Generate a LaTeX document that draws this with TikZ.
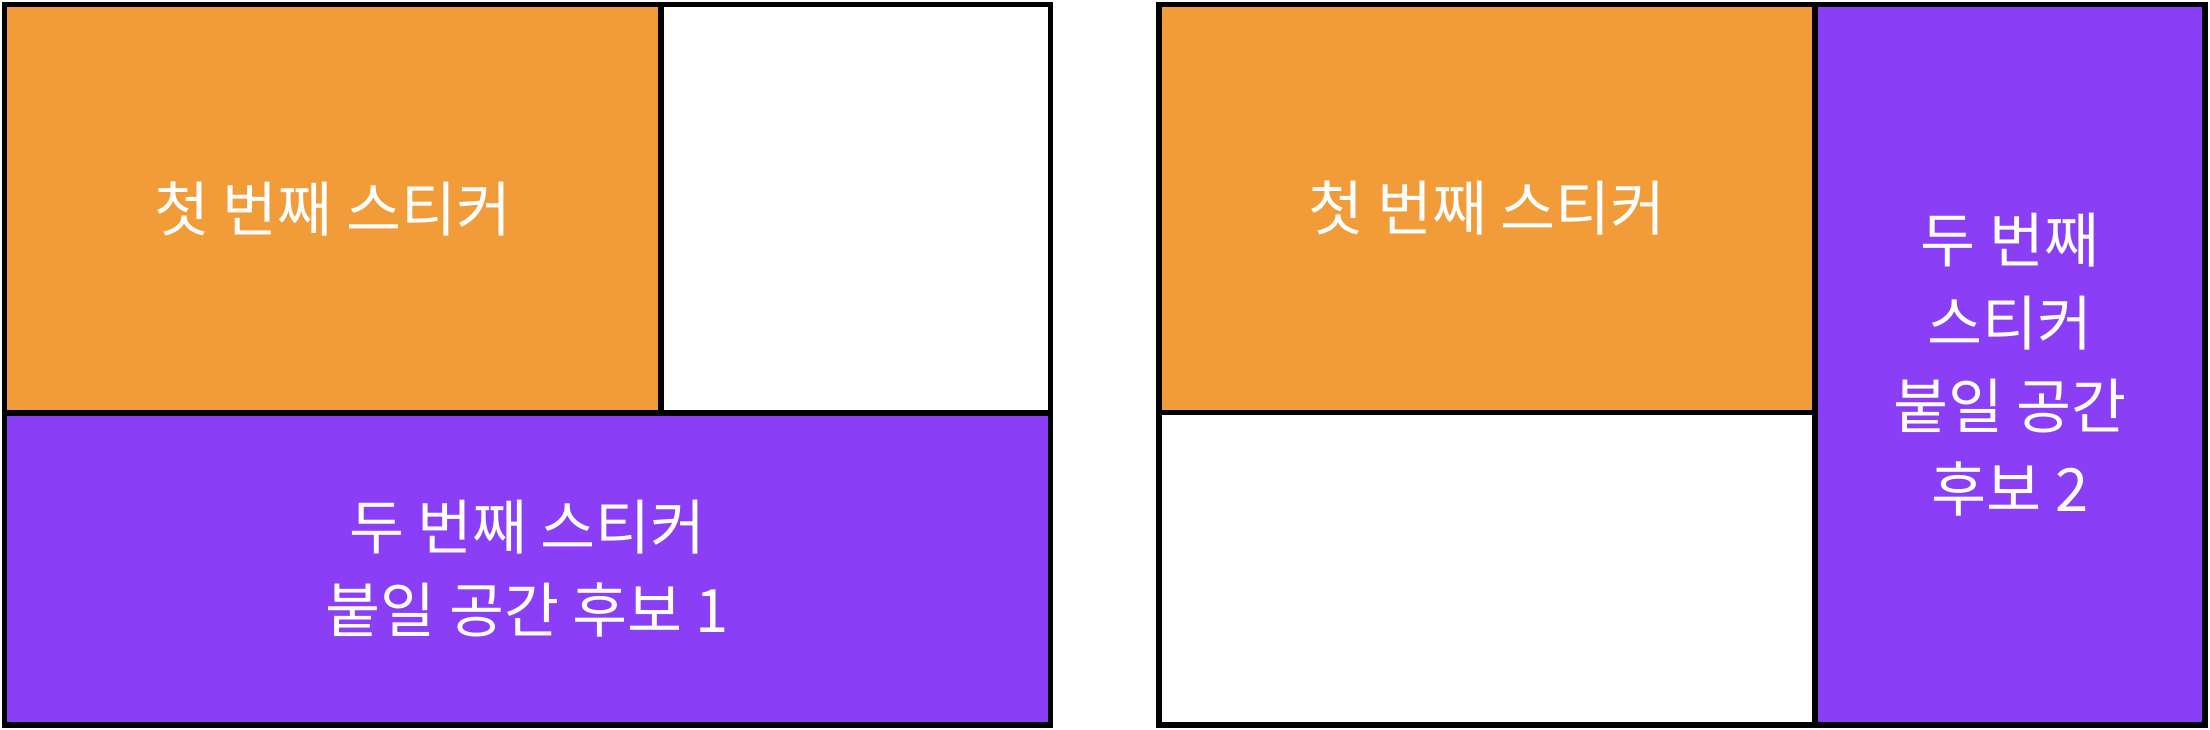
\documentclass[tikz,border=0pt]{standalone}
\usepackage{fontspec}
\setmainfont{Noto Sans CJK KR}
\usepackage{tikz}
\usetikzlibrary{positioning}
\definecolor{stickerorange}{HTML}{F19C38}
\definecolor{stickerpurple}{HTML}{8A3FF6}

\begin{document}
\begin{tikzpicture}[
    cell/.style={draw=black, line width=1.7pt, inner sep=0pt, align=center,
      text=white, font=\fontsize{17}{23.6}\selectfont},
    first/.style={cell, fill=stickerorange},
    second/.style={cell, fill=stickerpurple},
    empty/.style={cell, fill=white}]
  \useasboundingbox (0,0) rectangle (22.1,-7.3);

  % left: candidate 1
  \draw (3.3275,-2.0875) node[first, minimum width=6.565cm, minimum height=4.085cm] (firstL) {첫 번째 스티커};
  \draw (8.5575,-2.0875) node[empty, minimum width=3.895cm, minimum height=4.085cm] (emptyL) {};
  \draw (5.275,-5.69) node[second, minimum width=10.46cm, minimum height=3.12cm] (secondL) {두 번째 스티커\\붙일 공간 후보 1};

  % right: candidate 2
  \draw (14.87,-2.085) node[first, minimum width=6.56cm, minimum height=4.08cm] (firstR) {첫 번째 스티커};
  \draw (14.87,-5.6875) node[empty, minimum width=6.56cm, minimum height=3.125cm] (emptyR) {};
  \draw (20.1,-3.6475) node[second, minimum width=3.9cm, minimum height=7.205cm] (secondR) {두 번째\\스티커\\붙일 공간\\후보 2};
\end{tikzpicture}
\end{document}
